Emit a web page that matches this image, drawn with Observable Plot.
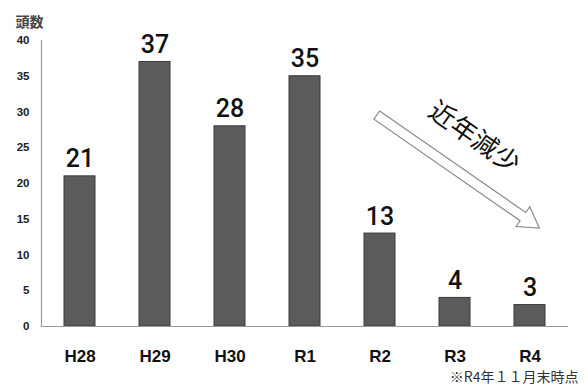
<!DOCTYPE html>
<html><head><meta charset="utf-8">
<script src="https://cdn.jsdelivr.net/npm/d3@7"></script>
<script src="https://cdn.jsdelivr.net/npm/@observablehq/plot@0.6"></script>
<style>body{margin:0;background:#fff}</style>
</head><body><div id="chart"></div>
<script>
const years = ["H28","H29","H30","R1","R2","R3","R4"];
const counts = [21,37,28,35,13,4,3];
const yTicks = [0,5,10,15,20,25,30,35,40];
const yLabel = "頭数";
const trendLabel = "近年減少";
const note = "※R4年１１月末時点";
// arrow annotation expressed in data space (category, value, pixel nudge)
const arrowFrom = {x:"R2", y:29.5, dx:-3};
const arrowTo = {x:"R4", y:13.7, dx:9};
const trendPos = {x:"R3", y:26.4, dx:19};

const data = years.map((k,i)=>({year:k,count:counts[i]}));
const jp = "'Noto Sans CJK JP', 'Noto Sans', sans-serif";

const plot = Plot.plot({
  width:588, height:389,
  marginLeft:41, marginRight:20, marginTop:40, marginBottom:63,
  style:{fontFamily:"'Liberation Sans', Arial, sans-serif", background:"#fff", overflow:"visible"},
  x:{domain:years, paddingInner:0.59, paddingOuter:0.295, label:null},
  y:{domain:[0,40], label:null},
  marks:[
    Plot.barY(data,{x:"year",y:"count",fill:"#5b5b5b",stroke:"#3a3a3a",strokeWidth:1}),
    Plot.text(data,{x:"year",y:"count",text:d=>String(d.count),lineAnchor:"bottom",dy:-9,fontSize:25,fontWeight:"500",fontFamily:"Roboto, 'Liberation Sans', sans-serif",fill:"#111"}),
    Plot.ruleY([0],{stroke:"#9a9a9a",strokeWidth:1.2}),
    Plot.frame({anchor:"left",stroke:"#9a9a9a",strokeWidth:1.2}),
    Plot.axisY({ticks:yTicks,tickSize:0,tickPadding:12,fontSize:11.5,fontWeight:"bold",fill:"#222",label:null}),
    Plot.axisX({tickSize:0,tickPadding:23,fontSize:17,fontWeight:"bold",fill:"#111",label:null}),
    Plot.text([yLabel],{frameAnchor:"top-left",dx:-26,dy:-23,textAnchor:"start",fontSize:14,fontWeight:"bold",fontFamily:jp,fill:"#444"}),
    Plot.text([note],{frameAnchor:"bottom-right",dx:10,dy:55,textAnchor:"end",fontSize:14,fontFamily:jp,fill:"#333"}),
    Plot.text([trendLabel],{x:()=>trendPos.x,y:()=>trendPos.y,dx:trendPos.dx,rotate:35,fontSize:26,fontWeight:"normal",fontFamily:jp,fill:"#111"})
  ]
});
document.getElementById("chart").appendChild(plot);

// hollow block arrow positioned via the plot's own scales
(function(){
  const sx = plot.scale("x"), sy = plot.scale("y");
  const xs = d3.scaleBand().domain(sx.domain).range(sx.range).paddingInner(sx.paddingInner ?? 0.59).paddingOuter(sx.paddingOuter ?? 0.295).align(sx.align ?? 0.5);
  const ys = d3.scaleLinear().domain(sy.domain).range(sy.range);
  const px = p => xs(p.x) + xs.bandwidth()/2 + (p.dx||0);
  const x0 = px(arrowFrom), y0 = ys(arrowFrom.y), x1 = px(arrowTo), y1 = ys(arrowTo.y);
  const L = Math.hypot(x1-x0,y1-y0), ang = Math.atan2(y1-y0,x1-x0)*180/Math.PI;
  const sw = 5, hw = 12, hl = 20;
  const pts = [[0,-sw],[L-hl,-sw],[L-hl,-hw],[L,0],[L-hl,hw],[L-hl,sw],[0,sw]];
  d3.select(plot).append("path")
    .attr("d","M"+pts.map(p=>p.join(",")).join("L")+"Z")
    .attr("transform",`translate(${x0},${y0}) rotate(${ang})`)
    .attr("fill","#fff").attr("stroke","#8a8a8a").attr("stroke-width",1.2);
})();
</script></body></html>
